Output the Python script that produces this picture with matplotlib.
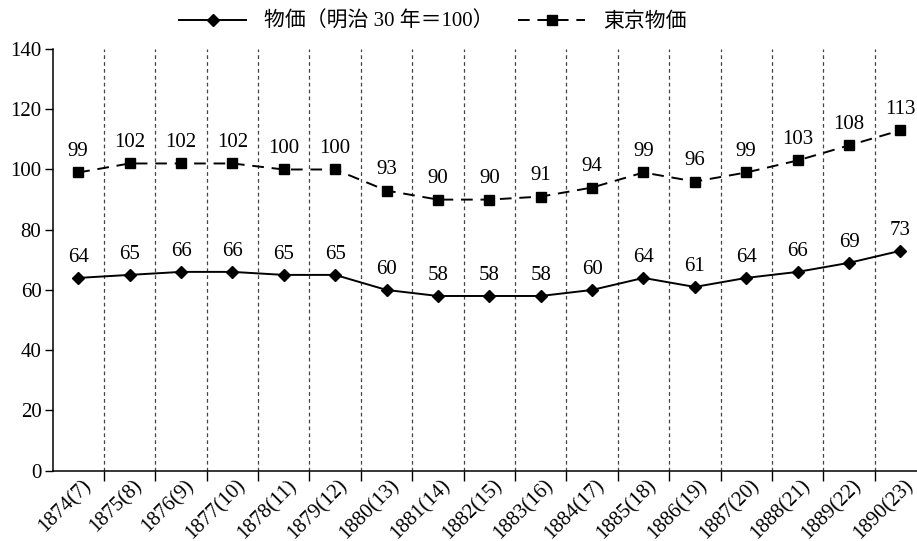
import matplotlib
matplotlib.use("Agg")
import matplotlib.pyplot as plt
import matplotlib.transforms as mtransforms
import numpy as np

plt.rcParams['font.family'] = ['Liberation Serif', 'Noto Sans CJK JP']

years = ["1874(7)", "1875(8)", "1876(9)", "1877(10)", "1878(11)", "1879(12)",
         "1880(13)", "1881(14)", "1882(15)", "1883(16)", "1884(17)", "1885(18)",
         "1886(19)", "1887(20)", "1888(21)", "1889(22)", "1890(23)"]
prices = [64, 65, 66, 66, 65, 65, 60, 58, 58, 58, 60, 64, 61, 64, 66, 69, 73]
tokyo_prices = [99, 102, 102, 102, 100, 100, 93, 90, 90, 91, 94, 99, 96, 99, 103, 108, 113]

label_prices = "物価（明治 30 年＝100）"
label_tokyo = "東京物価"

fig = plt.figure(figsize=(9.17, 5.41), dpi=100)
# the plot area runs on past the right edge of the figure
ax = fig.add_axes([0.0573, 0.130, 0.9526, 0.7794])

x = np.arange(len(years))
ax.plot(x, prices, color="black", lw=1.4, marker="D", ms=6, label=label_prices,
        clip_on=False)
ax.plot(x, tokyo_prices, color="black", lw=1.4, ls=(0, (6, 4)), marker="s", ms=7,
        label=label_tokyo, clip_on=False)

for xi, v in zip(x, prices):
    ax.annotate(str(v), (xi, v), xytext=(0, 8), textcoords="offset points",
                ha="center", va="bottom", fontsize=15)
for xi, v in zip(x, tokyo_prices):
    ax.annotate(str(v), (xi, v), xytext=(0, 8), textcoords="offset points",
                ha="center", va="bottom", fontsize=15)

ax.set_xlim(-0.5, len(years) - 0.5)
ax.set_ylim(0, 140)
ax.set_yticks(np.arange(0, 141, 20))
ax.tick_params(axis="y", labelsize=15, length=6, width=1, direction="out", pad=2)

# category boundaries: minor ticks plus dashed separators
bounds = np.arange(0.5, len(years) - 1, 1.0)
ax.set_xticks(x)
ax.set_xticklabels(years, rotation=45, ha="right", rotation_mode="anchor", fontsize=15)
ax.tick_params(axis="x", which="major", length=0, pad=4)
shift = mtransforms.ScaledTranslation(3 / 100, 0, fig.dpi_scale_trans)
for lab in ax.get_xticklabels():
    lab.set_transform(lab.get_transform() + shift)
ax.set_xticks(bounds, minor=True)
ax.tick_params(axis="x", which="minor", length=7, width=1, direction="out")
for b in bounds:
    ax.axvline(b, color="#444444", lw=0.9, ls=(0, (3, 2.5)), zorder=0)

for s in ("top", "right"):
    ax.spines[s].set_visible(False)
ax.spines["left"].set_linewidth(1.1)
ax.spines["bottom"].set_linewidth(1.1)

fig.legend(loc="upper center", bbox_to_anchor=(0.472, 1.012), ncol=2, frameon=False,
           fontsize=15, handlelength=3.2, handletextpad=0.85, columnspacing=1.2)

fig.savefig("out.png", dpi=100)
